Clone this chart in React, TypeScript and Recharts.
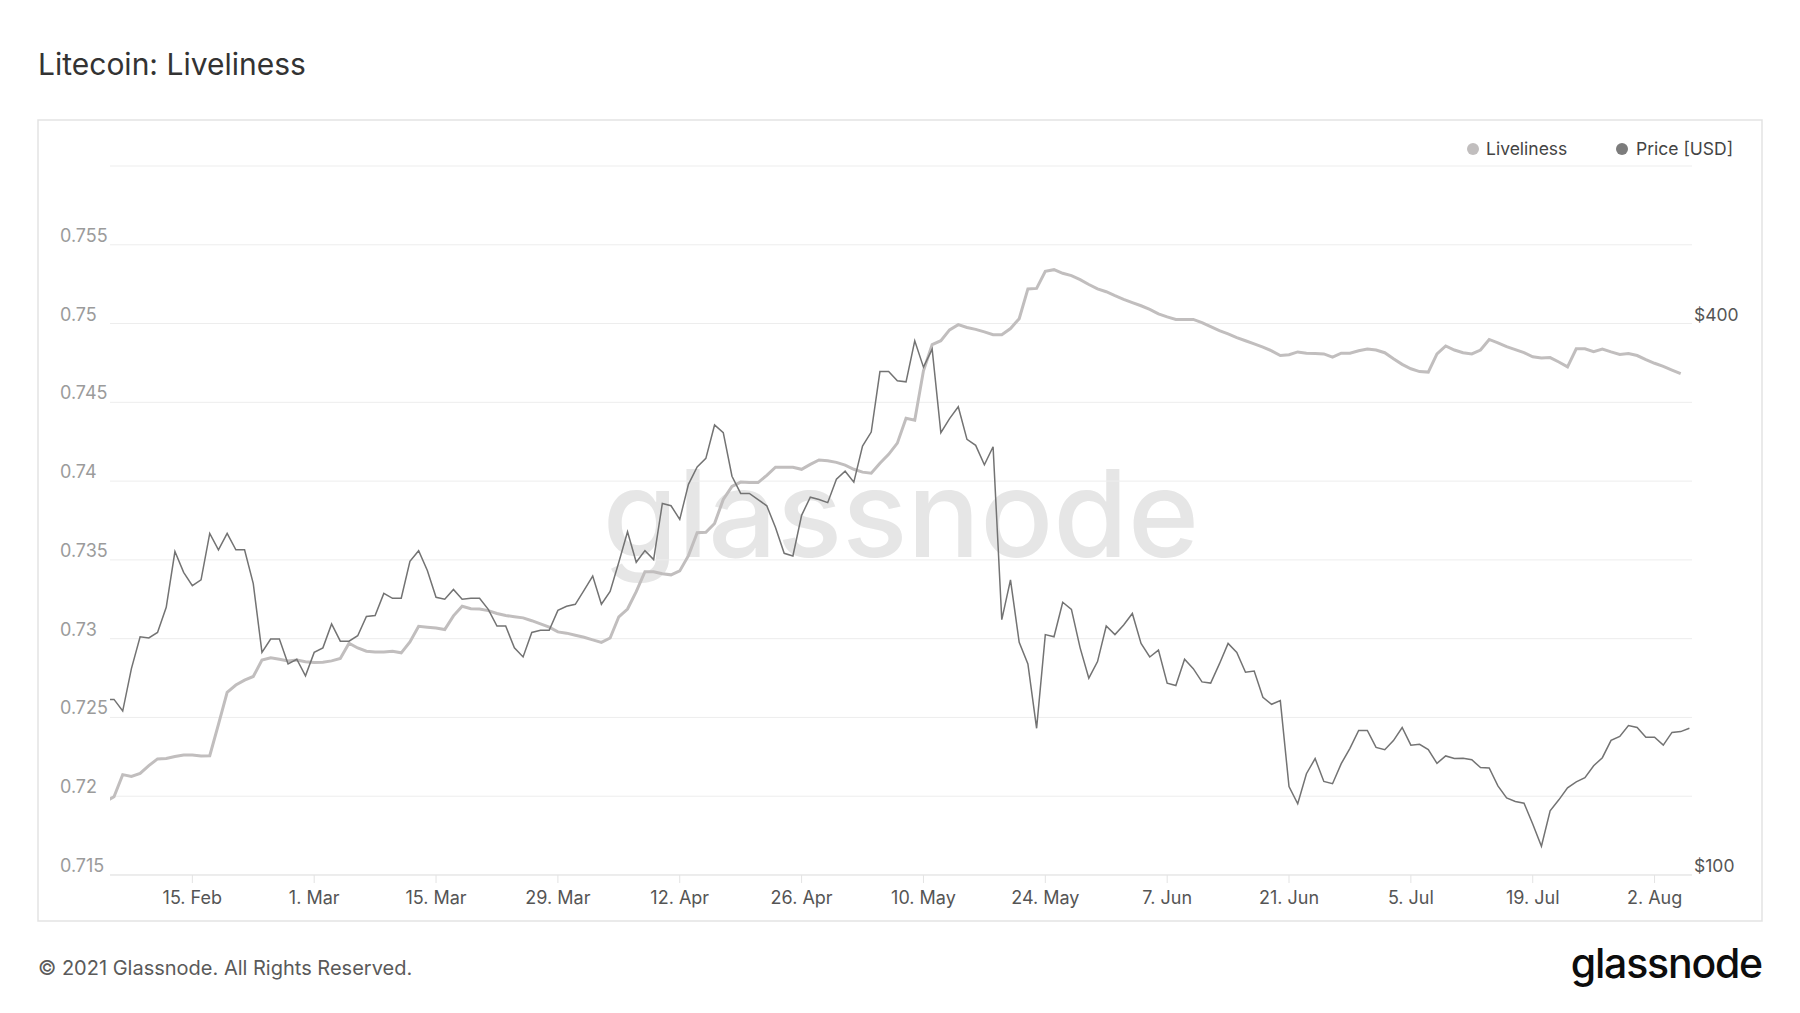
import { LineChart, Line, CartesianGrid, XAxis, YAxis } from 'recharts';

// daily values, first day 2021-02-05
const START_DATE = '2021-02-05';

const liveliness = [
	0.71966,
	0.71997, 0.72137, 0.72125, 0.72145, 0.72194, 0.72237, 0.72239, 0.72252, 0.72262, 0.72262,
	0.72255, 0.72257, 0.72456, 0.7266, 0.72706, 0.72737, 0.7276, 0.72864, 0.72879, 0.72869,
	0.72859, 0.72864, 0.72854, 0.72849, 0.72851, 0.72859, 0.72874, 0.72971, 0.72941, 0.7292,
	0.72915, 0.72915, 0.7292, 0.7291, 0.72979, 0.73078, 0.73073, 0.73068, 0.73058, 0.73145,
	0.73206, 0.7319, 0.73188, 0.73178, 0.7316, 0.73147, 0.73139, 0.73132, 0.73114, 0.73094,
	0.73073, 0.73043, 0.73035, 0.73022, 0.73009, 0.72992, 0.72976, 0.73004, 0.73139, 0.73188,
	0.73298, 0.73425, 0.73425, 0.73412, 0.73405, 0.7343, 0.73527, 0.73672, 0.73675, 0.73731,
	0.73884, 0.73966, 0.73994, 0.73991, 0.73991, 0.74037, 0.74088, 0.74088, 0.74088, 0.74075,
	0.74106, 0.74134, 0.74129, 0.74119, 0.74101, 0.74075, 0.74057, 0.7405, 0.74113, 0.7417,
	0.74241, 0.74399, 0.74386, 0.747, 0.74866, 0.74891, 0.7496, 0.74993, 0.74975, 0.74963,
	0.74947, 0.74929, 0.74929, 0.74968, 0.75031, 0.7522, 0.75223, 0.75332, 0.75342, 0.75319,
	0.75304, 0.75279, 0.75248, 0.7522, 0.75202, 0.75177, 0.75154, 0.75133, 0.75113, 0.7509,
	0.75062, 0.75042, 0.75026, 0.75026, 0.75026, 0.75006, 0.7498, 0.74955, 0.74934, 0.74911,
	0.74891, 0.74871, 0.7485, 0.74827, 0.74797, 0.74802, 0.7482, 0.74812, 0.7481, 0.74807,
	0.74787, 0.74812, 0.74812, 0.74827, 0.74838, 0.74832, 0.74815, 0.74776, 0.74741, 0.74713,
	0.74695, 0.74692, 0.74807, 0.74858, 0.74832, 0.74815, 0.74807, 0.74832, 0.74899, 0.74878,
	0.74853, 0.74835, 0.74815, 0.74789, 0.74781, 0.74784, 0.74756, 0.74725, 0.7484, 0.7484,
	0.74822, 0.74838, 0.7482, 0.74804, 0.7481, 0.74797, 0.74771, 0.74748, 0.74728, 0.74705,
	0.74682,
];

const price = [
	155.5,
	155.5, 151, 168, 182, 181.5, 184, 196, 225.5, 214, 207,
	210, 236, 226.5, 236, 226.5, 226.5, 208, 175, 181, 181,
	170, 172, 165, 175, 177, 188, 180, 180, 182.5, 191.5,
	192, 203, 200.5, 200.5, 220, 226, 215, 201, 200, 205,
	200, 200.5, 200.5, 195, 187, 187, 177, 173, 184, 185,
	185, 194.5, 196.5, 197.5, 204.5, 212, 197.5, 204, 219.5, 237,
	219.5, 226, 221, 254.5, 253, 244.5, 267, 279, 285, 310,
	304, 272.5, 261, 261, 257, 253, 239.5, 224.5, 223, 247,
	258.5, 257, 255, 270.5, 276, 268.5, 294, 304.5, 354.5, 354.5,
	346.5, 345.5, 383, 358.5, 375, 304, 315, 324.5, 299, 294.5,
	280.5, 293.5, 190, 210, 179.5, 170, 144.6, 183, 182, 198.5,
	195, 177, 164, 171, 187, 183, 187.5, 193, 179, 173,
	176, 162, 161, 172, 168, 162.5, 162, 170, 179, 175,
	166.5, 167, 156.3, 153.6, 155, 124.9, 119.6, 129, 134, 126.5,
	125.8, 132.3, 137.5, 143.8, 143.8, 137.8, 137, 140.2, 144.9, 138.6,
	138.9, 137.1, 132.4, 134.9, 134, 134.1, 133.6, 131, 130.9, 125.1,
	121.4, 120.3, 119.8, 113.7, 107.5, 117.5, 120.8, 124.5, 126.4, 127.7,
	131.6, 134.3, 140.3, 141.7, 145.6, 144.9, 141.4, 141.4, 138.6, 143.1,
	143.4, 144.6,
];

const tickDates = [
	'2021-02-15', '2021-03-01', '2021-03-15', '2021-03-29', '2021-04-12', '2021-04-26', '2021-05-10',
	'2021-05-24', '2021-06-07', '2021-06-21', '2021-07-05', '2021-07-19', '2021-08-02',
];
const monthNames = ['Jan', 'Feb', 'Mar', 'Apr', 'May', 'Jun', 'Jul', 'Aug', 'Sep', 'Oct', 'Nov', 'Dec'];
const livelinessTicks = [0.715, 0.72, 0.725, 0.73, 0.735, 0.74, 0.745, 0.75, 0.755, 0.76];
const priceTicks = [100, 400];

const DAY = 86400000;
const t0 = Date.parse(START_DATE);
const dayIndex = (d: string) => Math.round((Date.parse(d) - t0) / DAY);
const xTicks = tickDates.map(dayIndex);
const dateLabel = (i: number) => {
	const d = new Date(t0 + i * DAY);
	return `${d.getUTCDate()}. ${monthNames[d.getUTCMonth()]}`;
};

const data = price.map((p, i) => ({
	i,
	liveliness: i < liveliness.length ? liveliness[i] : null,
	price: p,
}));

const FONT = 'Inter, "Noto Sans", sans-serif';
const PLOT_BOTTOM = 875;

const LeftTick = (props: any) => {
	const { y, payload } = props;
	if (payload.value >= 0.76) return <g />;
	return (
		<text x={60} y={y - 3} fill="#9b9b9b" fontSize={18} fontFamily={FONT}>
			{String(Number(payload.value.toFixed(3)))}
		</text>
	);
};

const RightTick = (props: any) => {
	const { y, payload } = props;
	return (
		<text x={1694} y={y - 3} fill="#555" fontSize={17.5} fontFamily={FONT}>
			{'$' + payload.value}
		</text>
	);
};

const BottomTick = (props: any) => {
	const { x, payload } = props;
	return (
		<text x={x} y={PLOT_BOTTOM + 29} textAnchor="middle" fill="#555" fontSize={18} fontFamily={FONT}>
			{dateLabel(payload.value)}
		</text>
	);
};

const App = () => {
	return (
		<div style={{ position: 'absolute', left: 0, top: 0, width: 1800, height: 1013, background: '#fff' }}>
			<svg width={1800} height={1013} style={{ position: 'absolute', left: 0, top: 0 }}>
				<text x={38} y={75} fill="#333" fontSize={30} fontFamily={FONT}>
					Litecoin: Liveliness
				</text>
				<rect x={38} y={120} width={1724} height={801} fill="none" stroke="#e3e3e3" strokeWidth={1.5} />
				<text x={901} y={557} textAnchor="middle" fill="#e6e6e6" fontSize={121} fontWeight={500} fontFamily={FONT}>
					glassnode
				</text>
				<circle cx={1473} cy={149} r={6} fill="#c1bebe" />
				<text x={1486} y={155} fill="#444" fontSize={17.5} fontFamily={FONT}>
					Liveliness
				</text>
				<circle cx={1622} cy={149} r={6} fill="#7c7c7c" />
				<text x={1636} y={155} fill="#444" fontSize={17.5} fontFamily={FONT}>
					Price [USD]
				</text>
				<text x={38} y={975} fill="#5a5a5a" fontSize={20} fontFamily={FONT}>
					© 2021 Glassnode. All Rights Reserved.
				</text>
				<text x={1762} y={978} textAnchor="end" fill="#0d0d0d" fontSize={41} fontWeight={500} fontFamily={FONT} letterSpacing={-1.2}>
					glassnode
				</text>
			</svg>
			<div style={{ position: 'absolute', left: 0, top: 0 }}>
				<LineChart width={1800} height={1013} data={data} margin={{ top: 166, right: 48, bottom: 98, left: 50 }}>
					<CartesianGrid yAxisId="left" vertical={false} stroke="#ededed" />
					<XAxis
						dataKey="i"
						type="number"
						domain={[0.54, 182.3]}
						allowDataOverflow
						ticks={xTicks}
						tick={BottomTick}
						tickSize={8}
						tickLine={{ stroke: '#e3e3e3' }}
						axisLine={{ stroke: '#e3e3e3' }}
						height={40}
					/>
					<YAxis
						yAxisId="left"
						domain={[0.715, 0.76]}
						ticks={livelinessTicks}
						allowDataOverflow
						width={60}
						axisLine={false}
						tickLine={false}
						tick={LeftTick}
					/>
					<YAxis
						yAxisId="right"
						orientation="right"
						scale="log"
						domain={[100, 594.4]}
						ticks={priceTicks}
						allowDataOverflow
						width={60}
						axisLine={false}
						tickLine={false}
						tick={RightTick}
					/>
					<Line
						yAxisId="left"
						type="linear"
						dataKey="liveliness"
						stroke="#c1bebe"
						strokeWidth={3}
						dot={false}
						isAnimationActive={false}
					/>
					<Line
						yAxisId="right"
						type="linear"
						dataKey="price"
						stroke="#737373"
						strokeWidth={1.5}
						dot={false}
						isAnimationActive={false}
					/>
				</LineChart>
			</div>
		</div>
	);
};

export default App;
